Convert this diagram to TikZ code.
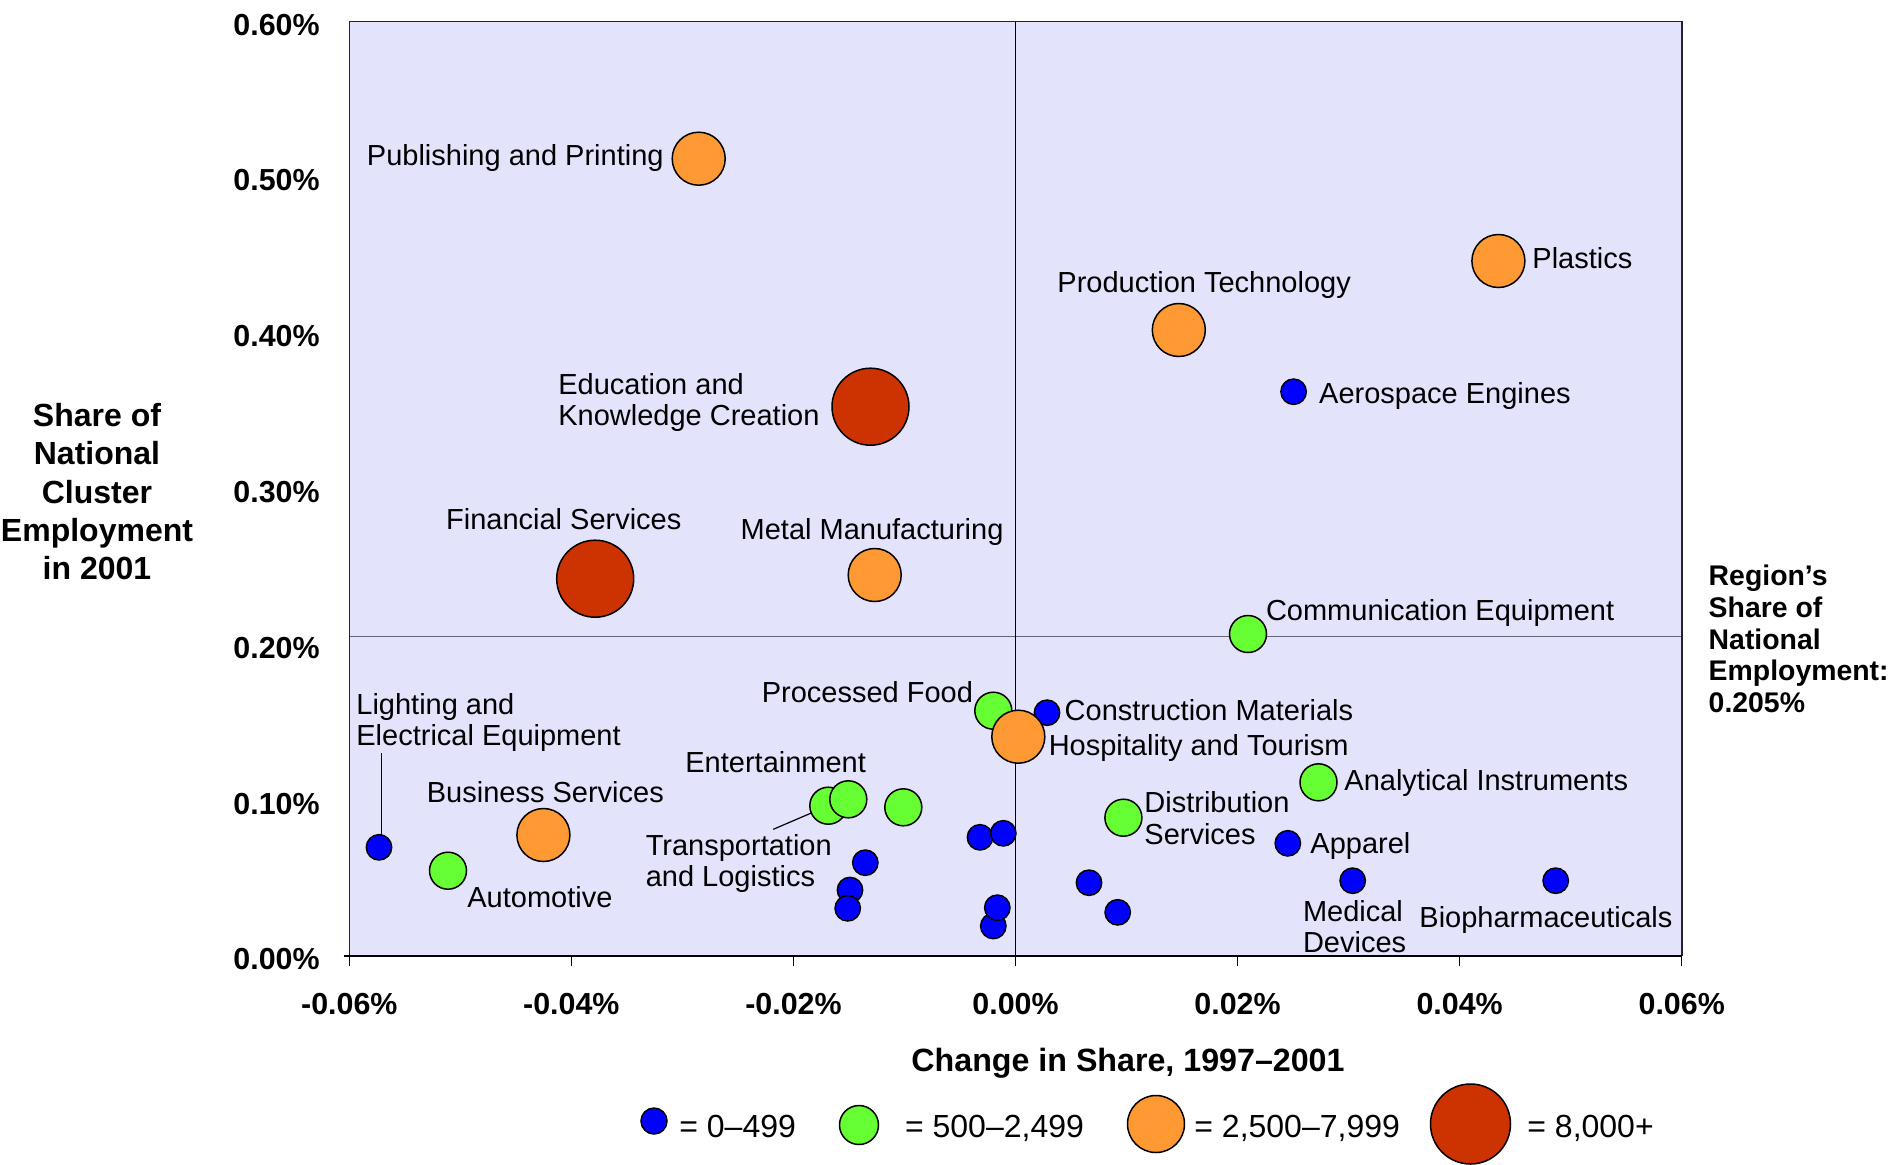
\documentclass[tikz,border=0pt]{standalone}
\usepackage{fontspec}
\setmainfont{Liberation Sans}
\definecolor{bgplot}{RGB}{227,227,252}
\definecolor{cblue}{RGB}{0,0,255}
\definecolor{cgreen}{RGB}{102,255,51}
\definecolor{corange}{RGB}{255,153,51}
\definecolor{cred}{RGB}{204,51,0}
\definecolor{framec}{RGB}{35,35,45}
\definecolor{midline}{RGB}{100,100,125}
\begin{document}
\begin{tikzpicture}[x=0.5pt,y=-0.5pt,
  dot/.style={circle,draw=black,line width=0.75pt,inner sep=0pt,outer sep=0pt},
  sb/.style={dot,fill=cblue,minimum size=12.7pt},
  sg/.style={dot,fill=cgreen,minimum size=18.5pt},
  so/.style={dot,fill=corange,minimum size=26.5pt},
  sr/.style={dot,fill=cred,minimum size=38.5pt},
  lbl/.style={inner sep=0pt,font=\fontsize{14.5}{15.8}\selectfont,text height=10.4pt,text depth=0pt},
  mlbl/.style={inner sep=0pt,font=\fontsize{14.5}{15.8}\selectfont,align=left,anchor=north west},
  tickl/.style={inner sep=0pt,font=\bfseries\fontsize{15.2}{18}\selectfont,text height=10.9pt,text depth=0pt},
  legl/.style={inner sep=0pt,font=\fontsize{16}{19}\selectfont,text height=11.5pt,text depth=0pt,anchor=west},
  leader/.style={line width=0.6pt,black}
]
\useasboundingbox (0,0) rectangle (1892,1164);
% plot area
\fill[bgplot] (349.3,21.5) rectangle (1681.7,956);
\draw[line width=0.6pt,midline] (349.3,636.6) -- (1681.7,636.6);
\draw[line width=0.7pt,black] (1015.5,21.5) -- (1015.5,956);
\draw[line width=0.8pt,framec] (349.3,956) -- (349.3,21.5) -- (1681.7,21.5) -- (1681.7,956);
\draw[line width=1.3pt,black] (344,956) -- (1681.7,956);
\foreach \i in {0,...,6} \draw[line width=0.75pt] (349.3+\i*222.07,956) -- (349.3+\i*222.07,966);

% x tick labels
\foreach \i/\t in {0/-0.06,1/-0.04,2/-0.02,3/0.00,4/0.02,5/0.04,6/0.06}
  \node[tickl] (xt\i) at (349.3+\i*222.07,1003.3) {\t\%};
% y tick labels
\foreach \i/\t in {0/0.00,1/0.10,2/0.20,3/0.30,4/0.40,5/0.50,6/0.60}
  \node[tickl,anchor=east] (yt\i) at (320,959-\i*155.8) {\t\%};

% axis titles
\node[inner sep=0pt,font=\bfseries\fontsize{16.1}{19}\selectfont,text height=11.6pt,text depth=0pt] (xtitle) at (1128,1060) {Change in Share, 1997–2001};
\node[inner sep=0pt,font=\bfseries\fontsize{16}{19.15}\selectfont,align=center,anchor=north] (ytitle) at (97,403) {Share of\\National\\Cluster\\Employment\\in 2001};
\node[inner sep=0pt,font=\bfseries\fontsize{14.2}{15.8}\selectfont,align=left,anchor=north west] (region) at (1708.3,565) {Region’s\\Share of\\National\\Employment:\\0.205\%};

% leader line free ends
\coordinate (tlf) at (773.3,829.3);
\coordinate (llf) at (381.6,753.3);

% data points
\node[so] (pub) at (698.7,158.7) {};
\node[so] (plast) at (1498.4,261) {};
\node[so] (prod) at (1178.8,330) {};
\node[sb] (aero) at (1293.6,391.7) {};
\node[sr] (edu) at (870.5,406.7) {};
\node[sr] (fin) at (595.2,578.7) {};
\node[so] (metal) at (874.7,575) {};
\node[sg] (comm) at (1248,634) {};
\node[sg] (proc) at (993.3,710.7) {};
\node[sb] (constr) at (1047,712.7) {};
\node[so] (hosp) at (1018.3,736.7) {};
\node[sb] (light) at (379,847.3) {};
\node[sg] (auto) at (448,870.7) {};
\node[so] (bus) at (543.4,835) {};
\node[sg] (trans) at (828.3,805.7) {};
\node[sg] (ent) at (848.3,799.3) {};
\node[sg] (gthree) at (903.3,807.3) {};
\node[sb] (ba) at (980,837.3) {};
\node[sb] (bb) at (1003.3,833.3) {};
\node[sb] (bc) at (865.3,862.7) {};
\node[sb] (bd) at (850,890) {};
\node[sb] (be) at (847.7,908.3) {};
\node[sb] (bg) at (993.3,926) {};
\node[sb] (bf) at (997.3,907.7) {};
\node[sb] (bh) at (1089,882.7) {};
\node[sb] (bi) at (1117.7,912.3) {};
\node[sg] (dist) at (1123.4,817.7) {};
\node[sg] (anal) at (1318.5,782.3) {};
\node[sb] (app) at (1287.8,843.3) {};
\node[sb] (med) at (1352.7,880.7) {};
\node[sb] (bio) at (1555.7,880.7) {};

\draw[leader] (tlf) -- (trans);
\draw[leader] (llf) -- (llf |- light.north);

% labels
\node[lbl,anchor=east] (lpub) at (664,155) {Publishing and Printing};
\node[lbl,anchor=west] (lplast) at (1532,258) {Plastics};
\node[lbl,anchor=west] (lprod) at (1057,281.7) {Production Technology};
\node[lbl,anchor=west] (laero) at (1318.8,392.7) {Aerospace Engines};
\node[mlbl] (ledu) at (558,372.9) {Education and\\Knowledge Creation};
\node[lbl,anchor=west] (lcomm) at (1265.6,610) {Communication Equipment};
\node[lbl,anchor=west] (lfin) at (445.7,519.3) {Financial Services};
\node[lbl,anchor=west] (lmetal) at (740.3,529.3) {Metal Manufacturing};
\node[lbl,anchor=east] (lproc) at (973.4,691.7) {Processed Food};
\node[lbl,anchor=west] (lconstr) at (1064.3,710) {Construction Materials};
\node[lbl,anchor=west] (lhosp) at (1048.4,745) {Hospitality and Tourism};
\node[mlbl] (llight) at (356,692.9) {Lighting and\\Electrical Equipment};
\node[lbl,anchor=west] (lent) at (685,761.7) {Entertainment};
\node[lbl,anchor=west] (lbus) at (426.5,791.7) {Business Services};
\node[lbl,anchor=west] (lanal) at (1344,780) {Analytical Instruments};
\node[mlbl] (ltrans) at (645.4,833.6) {Transportation\\and Logistics};
\node[mlbl] (ldist) at (1144,791.3) {Distribution\\Services};
\node[lbl,anchor=west] (lapp) at (1310,843.3) {Apparel};
\node[lbl,anchor=west] (lauto) at (467,896.7) {Automotive};
\node[mlbl] (lmed) at (1302.6,899.6) {Medical\\Devices};
\node[lbl,anchor=west] (lbio) at (1419,916.7) {Biopharmaceuticals};

% legend
\node[dot,fill=cblue,minimum size=13pt] (kb) at (654,1121) {};
\node[legl] (tb) at (679,1125.7) {= 0–499};
\node[dot,fill=cgreen,minimum size=19.5pt] (kg) at (859,1125) {};
\node[legl] (tg) at (904.7,1125.7) {= 500–2,499};
\node[dot,fill=corange,minimum size=28.5pt] (ko) at (1156,1124) {};
\node[legl] (to) at (1194,1125.7) {= 2,500–7,999};
\node[dot,fill=cred,minimum size=40pt] (kr) at (1470.5,1124) {};
\node[legl] (tr) at (1527,1125.7) {= 8,000+};
\end{tikzpicture}
\end{document}
